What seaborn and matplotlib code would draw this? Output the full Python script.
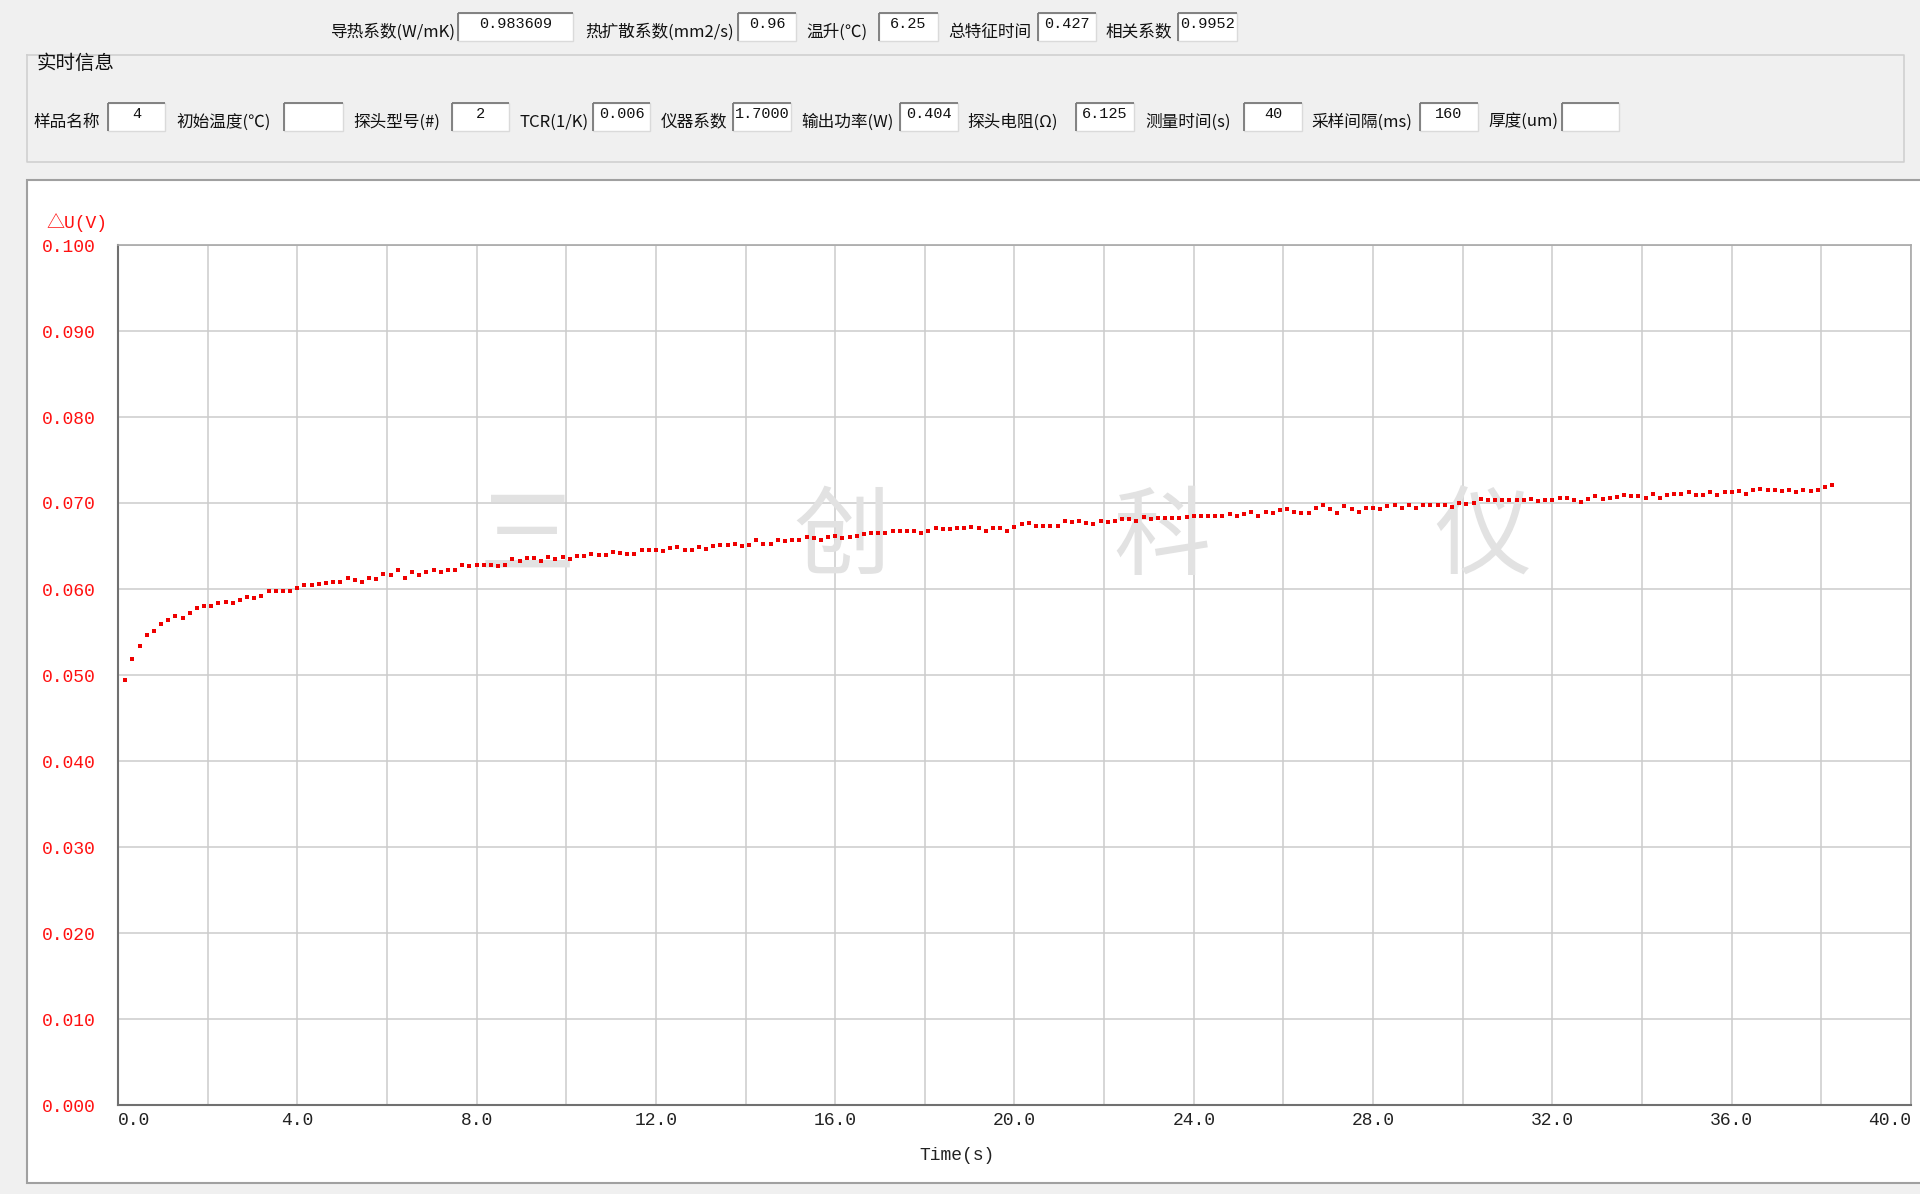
import numpy as np
import matplotlib
matplotlib.use("Agg")
import matplotlib.pyplot as plt
import seaborn as sns
from matplotlib.patches import Rectangle
from matplotlib.ticker import FormatStrFormatter

# --- header fields (label, value) ---
top_labels = ["导热系数(W/mK)", "热扩散系数(mm2/s)", "温升(℃)", "总特征时间", "相关系数"]
top_values = ["0.983609", "0.96", "6.25", "0.427", "0.9952"]

info_title = "实时信息"
info_labels = ["样品名称", "初始温度(℃)", "探头型号(#)", "TCR(1/K)", "仪器系数",
               "输出功率(W)", "探头电阻(Ω)", "测量时间(s)", "采样间隔(ms)", "厚度(um)"]
info_values = ["4", "", "2", "0.006", "1.7000", "0.404", "6.125", "40", "160", ""]

watermark_chars = ["三", "创", "科", "仪"]

# --- measured curve: time (s) and delta U (V) ---
time_s = [
    0.16, 0.32, 0.48, 0.64, 0.80, 0.96, 1.12, 1.28, 1.44, 1.60,
    1.76, 1.92, 2.08, 2.24, 2.40, 2.56, 2.72, 2.88, 3.04, 3.20,
    3.36, 3.52, 3.68, 3.84, 4.00, 4.16, 4.32, 4.48, 4.64, 4.80,
    4.96, 5.12, 5.28, 5.44, 5.60, 5.76, 5.92, 6.08, 6.24, 6.40,
    6.56, 6.72, 6.88, 7.04, 7.20, 7.36, 7.52, 7.68, 7.84, 8.00,
    8.16, 8.32, 8.48, 8.64, 8.80, 8.96, 9.12, 9.28, 9.44, 9.60,
    9.76, 9.92, 10.08, 10.24, 10.40, 10.56, 10.72, 10.88, 11.04, 11.20,
    11.36, 11.52, 11.68, 11.84, 12.00, 12.16, 12.32, 12.48, 12.64, 12.80,
    12.96, 13.12, 13.28, 13.44, 13.60, 13.76, 13.92, 14.08, 14.24, 14.40,
    14.56, 14.72, 14.88, 15.04, 15.20, 15.36, 15.52, 15.68, 15.84, 16.00,
    16.16, 16.32, 16.48, 16.64, 16.80, 16.96, 17.12, 17.28, 17.44, 17.60,
    17.76, 17.92, 18.08, 18.24, 18.40, 18.56, 18.72, 18.88, 19.04, 19.20,
    19.36, 19.52, 19.68, 19.84, 20.00, 20.16, 20.32, 20.48, 20.64, 20.80,
    20.96, 21.12, 21.28, 21.44, 21.60, 21.76, 21.92, 22.08, 22.24, 22.40,
    22.56, 22.72, 22.88, 23.04, 23.20, 23.36, 23.52, 23.68, 23.84, 24.00,
    24.16, 24.32, 24.48, 24.64, 24.80, 24.96, 25.12, 25.28, 25.44, 25.60,
    25.76, 25.92, 26.08, 26.24, 26.40, 26.56, 26.72, 26.88, 27.04, 27.20,
    27.36, 27.52, 27.68, 27.84, 28.00, 28.16, 28.32, 28.48, 28.64, 28.80,
    28.96, 29.12, 29.28, 29.44, 29.60, 29.76, 29.92, 30.08, 30.24, 30.40,
    30.56, 30.72, 30.88, 31.04, 31.20, 31.36, 31.52, 31.68, 31.84, 32.00,
    32.16, 32.32, 32.48, 32.64, 32.80, 32.96, 33.12, 33.28, 33.44, 33.60,
    33.76, 33.92, 34.08, 34.24, 34.40, 34.56, 34.72, 34.88, 35.04, 35.20,
    35.36, 35.52, 35.68, 35.84, 36.00, 36.16, 36.32, 36.48, 36.64, 36.80,
    36.96, 37.12, 37.28, 37.44, 37.60, 37.76, 37.92, 38.08, 38.24,
]

delta_u = [
    0.04938, 0.05191, 0.05339, 0.05463, 0.05506, 0.05595, 0.05638, 0.05685, 0.05665, 0.05716,
    0.05774, 0.05802, 0.05805, 0.05837, 0.05848, 0.05837, 0.05868, 0.05907, 0.05891, 0.05922,
    0.05980, 0.05980, 0.05980, 0.05980, 0.06012, 0.06043, 0.06047, 0.06062, 0.06074, 0.06086,
    0.06086, 0.06132, 0.06105, 0.06086, 0.06132, 0.06117, 0.06179, 0.06163, 0.06222, 0.06132,
    0.06195, 0.06163, 0.06195, 0.06222, 0.06195, 0.06222, 0.06222, 0.06284, 0.06268, 0.06284,
    0.06284, 0.06284, 0.06268, 0.06284, 0.06346, 0.06327, 0.06358, 0.06358, 0.06327, 0.06377,
    0.06346, 0.06377, 0.06346, 0.06389, 0.06389, 0.06410, 0.06398, 0.06391, 0.06426, 0.06422,
    0.06407, 0.06407, 0.06453, 0.06453, 0.06453, 0.06438, 0.06473, 0.06484, 0.06453, 0.06453,
    0.06484, 0.06469, 0.06500, 0.06516, 0.06516, 0.06527, 0.06496, 0.06516, 0.06574, 0.06527,
    0.06527, 0.06574, 0.06558, 0.06574, 0.06574, 0.06605, 0.06589, 0.06574, 0.06605, 0.06620,
    0.06589, 0.06605, 0.06620, 0.06636, 0.06651, 0.06651, 0.06651, 0.06678, 0.06678, 0.06678,
    0.06678, 0.06651, 0.06678, 0.06709, 0.06702, 0.06694, 0.06709, 0.06709, 0.06717, 0.06709,
    0.06678, 0.06709, 0.06709, 0.06678, 0.06725, 0.06756, 0.06767, 0.06736, 0.06736, 0.06736,
    0.06736, 0.06795, 0.06783, 0.06795, 0.06767, 0.06752, 0.06795, 0.06783, 0.06795, 0.06810,
    0.06810, 0.06795, 0.06837, 0.06810, 0.06826, 0.06826, 0.06826, 0.06826, 0.06837, 0.06853,
    0.06853, 0.06853, 0.06853, 0.06853, 0.06872, 0.06853, 0.06872, 0.06899, 0.06853, 0.06899,
    0.06884, 0.06915, 0.06930, 0.06899, 0.06884, 0.06884, 0.06946, 0.06977, 0.06930, 0.06884,
    0.06961, 0.06930, 0.06899, 0.06946, 0.06946, 0.06930, 0.06961, 0.06977, 0.06946, 0.06977,
    0.06946, 0.06977, 0.06977, 0.06977, 0.06977, 0.06953, 0.07004, 0.06988, 0.07004, 0.07047,
    0.07031, 0.07031, 0.07031, 0.07031, 0.07031, 0.07031, 0.07047, 0.07019, 0.07031, 0.07031,
    0.07062, 0.07062, 0.07031, 0.07016, 0.07047, 0.07081, 0.07047, 0.07054, 0.07066, 0.07093,
    0.07081, 0.07081, 0.07062, 0.07109, 0.07062, 0.07093, 0.07109, 0.07109, 0.07124, 0.07093,
    0.07093, 0.07124, 0.07093, 0.07124, 0.07124, 0.07136, 0.07109, 0.07155, 0.07167, 0.07155,
    0.07155, 0.07136, 0.07155, 0.07124, 0.07155, 0.07136, 0.07155, 0.07182, 0.07213,
]

# --- layout of the form (pixel coords, origin top-left) ---
W, H = 1920, 1194
top_label_x = [331, 585, 806, 948, 1106]
top_box_x = [(458, 573), (738, 796), (879, 938), (1038, 1096), (1178, 1237)]
top_row_y = (13, 41)

info_label_x = [34, 176, 353, 519, 661, 801, 967, 1145, 1311, 1488]
info_box_x = [(108, 165), (284, 343), (452, 509), (593, 650), (733, 791),
              (900, 958), (1076, 1134), (1244, 1302), (1420, 1478), (1562, 1619)]
info_row_y = (103, 131)

CJK = ["Noto Sans CJK SC", "DejaVu Sans"]
MONO = ["Liberation Mono", "Noto Sans CJK SC", "DejaVu Sans"]
RED = "#ff1010"

sns.set_style("white")
plt.rcParams["font.family"] = CJK

fig = plt.figure(figsize=(W / 100, H / 100), dpi=100, facecolor="#f0f0f0")

# full-figure overlay used for the form widgets
ui = fig.add_axes([0, 0, 1, 1], zorder=0)
ui.set_xlim(0, W)
ui.set_ylim(H, 0)
ui.axis("off")
ui.patch.set_alpha(0)


def entry(x0, x1, y0, y1, value):
    ui.add_patch(Rectangle((x0, y0), x1 - x0, y1 - y0, facecolor="white",
                           edgecolor="#dadada", lw=1.0))
    ui.plot([x0, x1], [y0, y0], color="#7a7a7a", lw=1.3, solid_capstyle="butt")
    ui.plot([x0, x0], [y0, y1], color="#7a7a7a", lw=1.3, solid_capstyle="butt")
    if value:
        ui.text((x0 + x1) / 2, y0 + 11, value, ha="center", va="center",
                fontsize=11, family=MONO, color="#111111")


# top result row
for lab, val, lx, (bx0, bx1) in zip(top_labels, top_values, top_label_x, top_box_x):
    ui.text(lx, (top_row_y[0] + top_row_y[1]) / 2 + 5, lab, ha="left", va="center",
            fontsize=12, color="#111111")
    entry(bx0, bx1, top_row_y[0], top_row_y[1], val)

# group box "实时信息"
gy0, gy1, gx0, gx1 = 55, 162, 27, 1904
ui.plot([gx0, gx0, gx1, gx1, gx0], [gy0, gy1, gy1, gy0, gy0], color="#d0d0d0", lw=1.2)
ui.add_patch(Rectangle((33, gy0 - 10), 90, 20, facecolor="#f0f0f0", edgecolor="none"))
ui.text(37, gy0 + 8, info_title, ha="left", va="center", fontsize=14, color="#111111")

for lab, val, lx, (bx0, bx1) in zip(info_labels, info_values, info_label_x, info_box_x):
    ui.text(lx, (info_row_y[0] + info_row_y[1]) / 2 + 5, lab, ha="left", va="center",
            fontsize=12, color="#111111")
    entry(bx0, bx1, info_row_y[0], info_row_y[1], val)

# white chart panel
ui.add_patch(Rectangle((27, 180), W - 27 + 5, 1183 - 180, facecolor="white",
                       edgecolor="#a0a0a0", lw=1.5))
ui.text(46, 223, "△U(V)", ha="left", va="center", fontsize=13, family=MONO, color=RED)
ui.text(957, 1155, "Time(s)", ha="center", va="center", fontsize=13, family=MONO,
        color="#222222")

# --- the chart itself ---
ax = fig.add_axes([118 / W, 1 - 1105 / H, 1793 / W, 860 / H], zorder=1)
ax.set_facecolor("white")
sns.scatterplot(x=time_s, y=delta_u, marker="s", s=5, color="#ee0000",
                linewidth=0, ax=ax, zorder=3)

ax.set_xlim(0, 40)
ax.set_ylim(0, 0.100)
ax.set_xticks(np.arange(0, 41, 4))
ax.set_xticks(np.arange(0, 41, 2), minor=True)
ax.set_yticks(np.linspace(0, 0.1, 11))
ax.xaxis.set_major_formatter(FormatStrFormatter("%.1f"))
ax.yaxis.set_major_formatter(FormatStrFormatter("%.3f"))
ax.set_axisbelow(True)
ax.grid(which="both", color="#cccccc", lw=1.1)

ax.tick_params(axis="both", which="major", direction="in", length=7, width=1.3,
               color="#222222", labelsize=13)
ax.tick_params(axis="both", which="minor", length=0)
ax.tick_params(axis="y", pad=16, labelcolor=RED)
ax.tick_params(axis="x", pad=5, labelcolor="#222222")

for side in ["left", "bottom"]:
    ax.spines[side].set_color("#707070")
    ax.spines[side].set_linewidth(1.5)
for side in ["top", "right"]:
    ax.spines[side].set_color("#a8a8a8")
    ax.spines[side].set_linewidth(1.2)

ax.set_xlabel("")
ax.set_ylabel("")

# watermark
for ch, fx in zip(watermark_chars, [0.228, 0.404, 0.582, 0.761]):
    ax.text(fx, 0.658, ch, transform=ax.transAxes, ha="center", va="center",
            fontsize=70, color="#e2e2e2", family=CJK, zorder=1)

# tick label font, and keep the end labels inside the panel
for lbl in ax.get_xticklabels() + ax.get_yticklabels():
    lbl.set_family(MONO)
xt = ax.get_xticklabels()
xt[0].set_horizontalalignment("left")
xt[-1].set_horizontalalignment("right")

fig.savefig("out.png", dpi=100, facecolor=fig.get_facecolor())
